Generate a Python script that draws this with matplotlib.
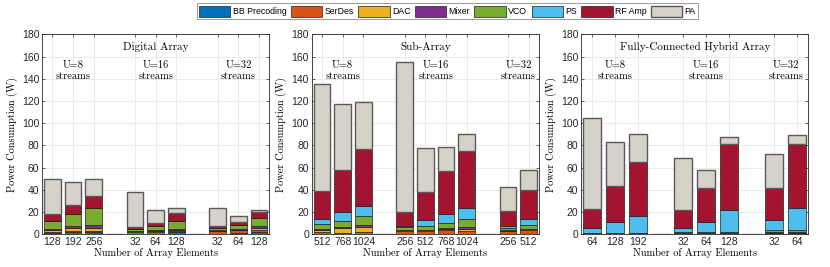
import matplotlib.pyplot as plt
import numpy as np

components = ['BB Precoding', 'SerDes', 'DAC', 'Mixer', 'VCO', 'PS', 'RF Amp', 'PA']
colors = ['#0072BD', '#D95319', '#EDB120', '#7E2F8E', '#77AC30', '#4DBEEE', '#A2142F', '#D4D2C9']
streams = ['U=8', 'U=16', 'U=32']

# '' marks the empty slot between stream groups
dig_labels = ['128', '192', '256', '', '32', '64', '128', '', '32', '64', '128']
dig_bb     = [0.9, 1.8, 2.1, 0, 0.3, 0.3, 1.8, 0, 0.6, 0.8, 2.1]
dig_serdes = [0.9, 1.2, 0.6, 0, 1.8, 1.8, 0.9, 0, 2.1, 2.7, 2.1]
dig_dac    = [1.8, 2.4, 3.3, 0, 0.6, 0.6, 1.2, 0, 0.6, 0.5, 1.8]
dig_mixer  = [1.2, 1.8, 2.4, 0, 0.6, 0.9, 0.9, 0, 0.9, 0.8, 1.5]
dig_vco    = [7.5, 11.4, 15.3, 0, 1.5, 3.9, 7.2, 0, 1.5, 3.6, 7.5]
dig_ps     = [0, 0, 0, 0, 0, 0, 0, 0, 0, 0, 0]
dig_rf     = [5.7, 7.8, 10.8, 0, 1.5, 2.7, 6.9, 0, 1.8, 3.0, 4.8]
dig_pa     = [32.0, 20.7, 15.6, 0, 31.8, 12.0, 4.5, 0, 16.5, 5.4, 2.4]

sub_labels = ['512', '768', '1024', '', '256', '512', '768', '1024', '', '256', '512']
sub_bb     = [0.6, 0.6, 0.6, 0, 0.6, 0.6, 0.6, 0.6, 0, 0.6, 0.6]
sub_serdes = [1.5, 0.9, 1.2, 0, 2.4, 2.1, 3.0, 2.4, 0, 2.4, 3.4]
sub_dac    = [2.1, 3.9, 5.1, 0, 0.6, 0.8, 1.2, 1.8, 0, 0.3, 0.4]
sub_mixer  = [0.9, 1.2, 1.5, 0, 0.6, 0.4, 0.6, 1.8, 0, 0.7, 0.6]
sub_vco    = [3.9, 5.4, 7.8, 0, 2.4, 3.9, 5.1, 7.2, 0, 2.0, 3.7]
sub_ps     = [4.5, 7.8, 9.6, 0, 0.9, 4.8, 7.8, 10.2, 0, 1.5, 4.8]
sub_rf     = [25.5, 38.2, 51.2, 0, 13.0, 25.9, 38.7, 51.0, 0, 13.5, 26.0]
sub_pa     = [96.0, 59.0, 42.0, 0, 134.5, 39.5, 22.0, 15.0, 0, 22.0, 18.0]

hyb_labels = ['64', '128', '192', '', '32', '64', '128', '', '32', '64']
hyb_bb     = [0.4, 0.4, 0.4, 0, 0.4, 0.4, 0.4, 0, 0.8, 0.8]
hyb_serdes = [0.2, 0.2, 0.2, 0, 0.2, 0.2, 0.2, 0, 0.3, 0.3]
hyb_dac    = [0.2, 0.2, 0.2, 0, 0.2, 0.2, 0.2, 0, 0.3, 0.3]
hyb_mixer  = [0.1, 0.1, 0.1, 0, 0.2, 0.2, 0.2, 0, 0.3, 0.3]
hyb_vco    = [0.3, 0.3, 0.3, 0, 0.8, 0.8, 0.8, 0, 1.8, 1.8]
hyb_ps     = [4.8, 9.6, 15.0, 0, 4.2, 9.6, 20.2, 0, 9.5, 20.0]
hyb_rf     = [16.5, 32.7, 48.8, 0, 15.5, 30.1, 59.5, 0, 29.0, 57.5]
hyb_pa     = [82.5, 39.5, 25.5, 0, 47.0, 16.0, 6.5, 0, 30.0, 8.5]

panels = [
    ('Digital Array', dig_labels,
     [dig_bb, dig_serdes, dig_dac, dig_mixer, dig_vco, dig_ps, dig_rf, dig_pa]),
    ('Sub-Array', sub_labels,
     [sub_bb, sub_serdes, sub_dac, sub_mixer, sub_vco, sub_ps, sub_rf, sub_pa]),
    ('Fully-Connected Hybrid Array', hyb_labels,
     [hyb_bb, hyb_serdes, hyb_dac, hyb_mixer, hyb_vco, hyb_ps, hyb_rf, hyb_pa]),
]

serif = 'cmr10'
sans = 'Liberation Sans'
plt.rcParams['font.family'] = [sans, 'DejaVu Sans']

fig = plt.figure(figsize=(8.3, 2.67), dpi=100)
lefts = [0.0506, 0.3755, 0.700]
handles = []

for left, (title, labels, data) in zip(lefts, panels):
    ax = fig.add_axes([left, 0.1225, 0.274, 0.749])
    n = len(labels)
    x = np.arange(1, n + 1)
    bottom = np.zeros(n)
    for k, (vals, c) in enumerate(zip(data, colors)):
        vals = np.array(vals, dtype=float)
        if k == len(data) - 1:
            b = ax.bar(x, vals, 0.8, bottom=bottom, color=c, edgecolor='#5a5a5a',
                       linewidth=1.0, zorder=3)
        else:
            b = ax.bar(x, vals, 0.8, bottom=bottom, color=c, edgecolor='#202020',
                       linewidth=0.5, zorder=3)
        if left == lefts[0]:
            handles.append(b)
        bottom += vals

    ticks = [xi for xi, l in zip(x, labels) if l]
    ax.set_xticks(ticks)
    ax.set_xticklabels([l for l in labels if l], fontsize=7.5, family=sans)
    ax.set_xlim(0.5, n + 0.5)
    ax.set_ylim(0, 180)
    yt = np.arange(0, 181, 20)
    ax.set_yticks(yt)
    ax.set_yticklabels([str(v) for v in yt], fontsize=7.5, family=sans)
    ax.tick_params(direction='in', length=2.5, width=0.5,
                   top=True, right=True, pad=2, colors='#262626')
    ax.grid(True, color='#e6e6e6', linewidth=0.6, zorder=0)
    for s in ax.spines.values():
        s.set_color('#262626')
        s.set_linewidth(0.6)
    ax.set_ylabel('Power Consumption (W)', family=serif, fontsize=7.5, labelpad=3)
    ax.set_xlabel('Number of Array Elements', family=serif, fontsize=7.5, labelpad=1)

    ax.text((n + 1) / 2, 169, title, family=serif, fontsize=8, ha='center', va='center')
    # group centres from the empty slots
    groups, cur = [], []
    for xi, l in zip(x, labels):
        if l:
            cur.append(xi)
        else:
            groups.append(cur)
            cur = []
    groups.append(cur)
    for g, s in zip(groups, streams):
        gx = np.mean(g)
        ax.text(gx, 152, s, family=serif, fontsize=7.5, ha='center', va='center')
        ax.text(gx, 142, 'streams', family=serif, fontsize=7.5, ha='center', va='center')

leg = fig.legend(handles, components, loc='center', bbox_to_anchor=(0.539, 0.958), ncol=8,
                 prop={'family': sans, 'size': 6.3}, handlelength=3.6, handleheight=1.6,
                 handletextpad=0.25, columnspacing=0.5, borderpad=0.25,
                 fancybox=False, framealpha=1)
leg.get_frame().set_edgecolor('#8c8c8c')
leg.get_frame().set_linewidth(0.6)

fig.savefig('out.png', dpi=100)
